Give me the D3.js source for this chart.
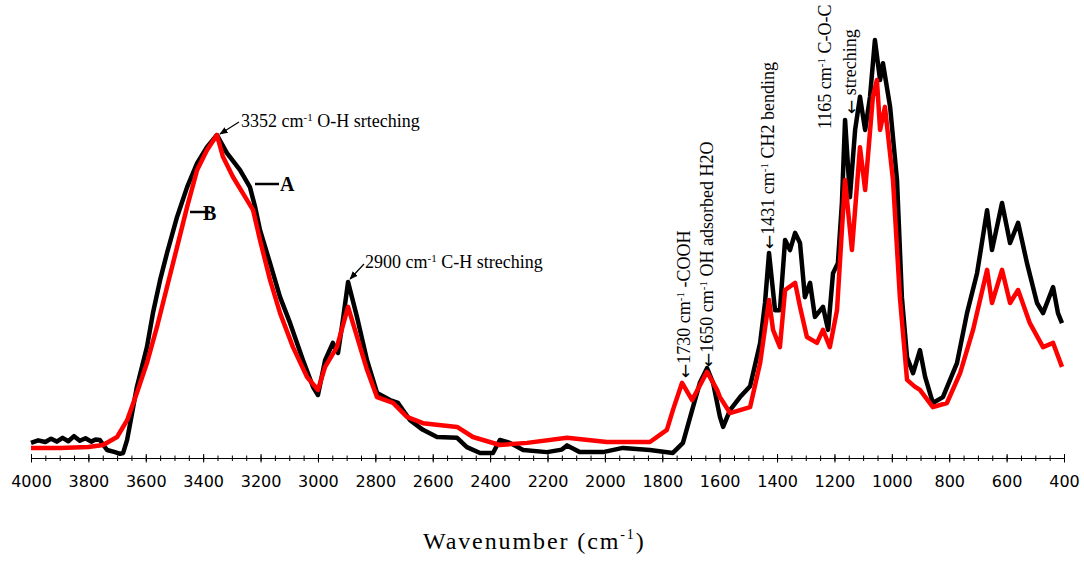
<!DOCTYPE html>
<html lang="en">
<head>
  <meta charset="UTF-8">
  <title>FTIR spectra A and B</title>
  <script src="https://d3js.org/d3.v7.min.js"></script>
  <style>
    body { margin: 0; padding: 0; background: #fff; }
    svg { display: block; }
    .tick text { font-family: 'DejaVu Sans', sans-serif; font-size: 16px; fill: #000; }
    .note { font-family: 'Liberation Serif', 'Times New Roman', serif; font-size: 18px; fill: #000; }
    .arr { font-family: 'DejaVu Sans', sans-serif; font-size: 17px; fill: #000; }
  </style>
</head>
<body>
  <div id="chart"></div>
  <script>
    // spectrum A (black) : wavenumber (cm-1) / absorbance (arb. units)
    const aWave = [4000, 3975, 3950, 3930, 3910, 3890, 3870, 3850, 3830, 3810, 3790, 3775, 3760, 3735, 3707, 3690, 3679,
      3665, 3631, 3596, 3575, 3550, 3526, 3491, 3456, 3421, 3387, 3352, 3317, 3272, 3237, 3219, 3202, 3167, 3132, 3097,
      3052, 3017, 3000, 2975, 2948, 2930, 2913, 2895, 2864, 2829, 2794, 2749, 2721, 2679, 2634, 2585, 2515, 2481, 2435,
      2390, 2366, 2331, 2285, 2202, 2150, 2132, 2110, 2087, 2007, 1937, 1843, 1763, 1728, 1693, 1669, 1644, 1623, 1599,
      1588, 1564, 1529, 1494, 1459, 1442, 1428, 1407, 1390, 1372, 1355, 1337, 1320, 1303, 1285, 1268, 1240, 1222, 1205,
      1188, 1174, 1163, 1146, 1128, 1111, 1093, 1076, 1059, 1041, 1031, 1006, 982, 965, 947, 926, 902, 884, 857, 822,
      773, 738, 703, 668, 651, 616, 588, 560, 529, 494, 473, 438, 421, 407];
    const aAbs = [3.6, 4.2, 3.8, 4.6, 3.9, 4.8, 4.0, 5.2, 4.1, 4.7, 3.9, 4.4, 4.3, 1.9, 1.4, 1.0, 1.2,
      4.3, 16.9, 26.4, 34.5, 42.4, 48.8, 57.4, 64.5, 70.2, 74.0, 76.9, 72.6, 68.6, 64.5, 59.8, 54.3, 46.4, 38.3, 32.1,
      23.3, 16.9, 15.0, 23.3, 27.4, 25.0, 32.9, 41.9, 33.6, 23.3, 15.5, 13.8, 13.1, 9.0, 6.7, 5.0, 4.8, 2.6, 1.2,
      1.2, 4.3, 3.6, 1.9, 1.4, 2.0, 3.0, 2.2, 1.4, 1.4, 2.4, 1.9, 1.2, 3.6, 12.1, 17.9, 21.4, 17.9, 9.8,
      7.4, 11.4, 14.5, 17.1, 27.4, 36.9, 48.8, 35.2, 35.2, 51.9, 49.5, 53.6, 51.2, 38.3, 41.7, 33.6, 36.0, 30.5, 44.0,
      46.4, 60.7, 80.5, 62.1, 78.1, 86.0, 78.1, 86.0, 99.5, 90.0, 94.0, 83.6, 66.2, 38.3, 24.0, 20.2, 25.7, 19.3, 13.1, 14.5,
      22.6, 34.5, 44.0, 59.0, 49.5, 60.7, 51.2, 56.0, 46.4, 36.9, 34.5, 40.7, 34.5, 32.1];

    // spectrum B (red)
    const bWave = [4000, 3900, 3800, 3749, 3700, 3665, 3631, 3596, 3561, 3526, 3491, 3456, 3421, 3387, 3352, 3331, 3296,
      3247, 3226, 3202, 3167, 3132, 3087, 3038, 3000, 2975, 2934, 2895, 2871, 2829, 2794, 2738, 2690, 2634, 2515, 2460,
      2366, 2271, 2132, 1993, 1843, 1784, 1763, 1731, 1696, 1644, 1609, 1599, 1564, 1494, 1459, 1428, 1414, 1390, 1372,
      1337, 1320, 1296, 1261, 1240, 1216, 1191, 1174, 1163, 1139, 1111, 1093, 1066, 1052, 1041, 1024, 996, 972, 947, 920,
      902, 857, 808, 762, 717, 668, 651, 616, 588, 560, 519, 473, 438, 407];
    const bAbs = [2.4, 2.4, 2.6, 3.1, 5.0, 9.0, 15.5, 22.6, 31.2, 40.7, 50.2, 59.8, 68.6, 73.3, 76.9, 71.7, 66.9,
      61.4, 59.0, 51.9, 42.4, 34.5, 26.4, 19.3, 16.2, 21.7, 26.4, 36.0, 30.5, 21.0, 14.5, 13.1, 9.8, 8.3, 7.4, 5.0,
      3.1, 3.6, 4.8, 3.8, 3.8, 6.7, 11.4, 17.9, 13.8, 20.5, 16.2, 14.5, 10.7, 12.1, 22.6, 37.6, 30.5, 26.4, 40.0,
      41.7, 36.0, 28.8, 27.4, 30.5, 26.4, 35.2, 54.3, 66.2, 49.5, 74.0, 63.8, 86.0, 90.0, 78.1, 83.6, 66.2, 38.3, 18.6, 17.0,
      16.2, 12.1, 13.1, 20.2, 30.5, 44.8, 36.9, 44.8, 36.9, 40.0, 32.1, 26.4, 27.4, 21.7];

    const majorTicks = d3.range(4000, 399, -200);
    const minorTicks = d3.range(4000, 399, -50);

    const width = 1084, height = 564;
    const svg = d3.select('#chart').append('svg')
      .attr('width', width)
      .attr('height', height);

    const x = d3.scaleLinear().domain([4000, 400]).range([31, 1064]);
    const y = d3.scaleLinear().domain([0, 100]).range([458, 38]);

    // axis
    const axisY = 458;
    const minorAxis = d3.axisBottom(x).tickValues(minorTicks).tickFormat('').tickSizeOuter(0);
    const gMinor = svg.append('g').attr('transform', `translate(0,${axisY})`).call(minorAxis);
    gMinor.select('.domain').remove();
    gMinor.selectAll('.tick line').attr('y1', -2.5).attr('y2', 3).attr('stroke', '#000');

    const majorAxis = d3.axisBottom(x).tickValues(majorTicks).tickFormat(d3.format('d')).tickSizeOuter(0);
    const gMajor = svg.append('g').attr('transform', `translate(0,${axisY})`).call(majorAxis);
    gMajor.select('.domain').attr('stroke', '#000').attr('d', `M${x(4000)},0.5H${x(400)}`);
    gMajor.selectAll('.tick line').attr('y1', -4).attr('y2', 4.5).attr('stroke', '#000');
    gMajor.selectAll('.tick text').attr('y', 29).attr('dy', 0);

    // x title
    const title = svg.append('text')
      .attr('x', 423).attr('y', 549)
      .attr('font-family', "'Liberation Serif', 'Times New Roman', serif")
      .attr('font-size', 24).attr('letter-spacing', 1.9);
    title.append('tspan').text('Wavenumber  (cm');
    title.append('tspan').attr('font-size', 14).attr('dy', -10).text('-1');
    title.append('tspan').attr('dy', 10).text(')');

    // curves
    const line = d3.line().x(d => x(d[0])).y(d => y(d[1]));
    svg.append('path')
      .datum(d3.zip(aWave, aAbs))
      .attr('d', line)
      .attr('fill', 'none').attr('stroke', '#000').attr('stroke-width', 4.5)
      .attr('stroke-linejoin', 'round');
    svg.append('path')
      .datum(d3.zip(bWave, bAbs))
      .attr('d', line)
      .attr('fill', 'none').attr('stroke', '#f00').attr('stroke-width', 4.5)
      .attr('stroke-linejoin', 'round');

    // arrow marker
    svg.append('defs').append('marker')
      .attr('id', 'head').attr('viewBox', '0 0 10 10')
      .attr('refX', 9).attr('refY', 5)
      .attr('markerWidth', 7).attr('markerHeight', 7)
      .attr('orient', 'auto-start-reverse')
      .append('path').attr('d', 'M0,1L10,5L0,9Z').attr('fill', '#000');

    const note = (tx, ty, txt, sup, rest) => {
      const t = svg.append('text').attr('class', 'note').attr('x', tx).attr('y', ty);
      t.append('tspan').text(txt);
      t.append('tspan').attr('font-size', 11).attr('dy', -6).text(sup);
      t.append('tspan').attr('dy', 6).text(rest);
      return t;
    };

    note(241, 127, '3352 cm', '-1', ' O-H srteching');
    svg.append('line').attr('x1', 239).attr('y1', 122).attr('x2', x(3352) + 3).attr('y2', y(76.9) - 1)
      .attr('stroke', '#000').attr('stroke-width', 1.2).attr('marker-end', 'url(#head)');

    note(365, 268, '2900 cm', '-1', ' C-H streching');
    svg.append('line').attr('x1', 364).attr('y1', 264).attr('x2', x(2895) + 2).attr('y2', y(41.9) - 3)
      .attr('stroke', '#000').attr('stroke-width', 1.2).attr('marker-end', 'url(#head)');

    // rotated notes, read bottom to top, starting with a left arrow
    const vnote = (tx, ty, arrow, txt, sup, rest) => {
      const t = svg.append('text').attr('class', 'note')
        .attr('transform', `translate(${tx},${ty}) rotate(-90)`);
      if (arrow) t.append('tspan').attr('class', 'arr').attr('dy', 1).text(arrow);
      t.append('tspan').attr('dy', arrow ? -1 : 0).text(txt);
      if (sup) {
        t.append('tspan').attr('font-size', 11).attr('dy', -6).text(sup);
        t.append('tspan').attr('dy', 6).text(rest);
      }
      return t;
    };

    vnote(690, 378, '\u2190', '1730 cm', '-1', '  -COOH');
    vnote(713, 367, '\u2190', '1650 cm', '-1', ' OH  adsorbed H2O');
    vnote(774, 249, '\u2190', '1431 cm', '-1', ' CH2 bending');
    vnote(831, 129, null, '1165 cm', '-1', ' C-O-C');
    vnote(856, 114, '\u2190', ' streching', null, null);

    // series labels
    svg.append('line').attr('x1', 255).attr('y1', 184).attr('x2', 279).attr('y2', 184)
      .attr('stroke', '#000').attr('stroke-width', 2.5);
    svg.append('text').attr('x', 280).attr('y', 191)
      .attr('font-family', "'Liberation Serif', serif").attr('font-weight', 'bold').attr('font-size', 20)
      .text('A');
    svg.append('text').attr('x', 203).attr('y', 220)
      .attr('font-family', "'Liberation Serif', serif").attr('font-weight', 'bold').attr('font-size', 20)
      .text('B');
    svg.append('line').attr('x1', 190).attr('y1', 212).attr('x2', 210).attr('y2', 212)
      .attr('stroke', '#000').attr('stroke-width', 2.5);
  </script>
</body>
</html>
